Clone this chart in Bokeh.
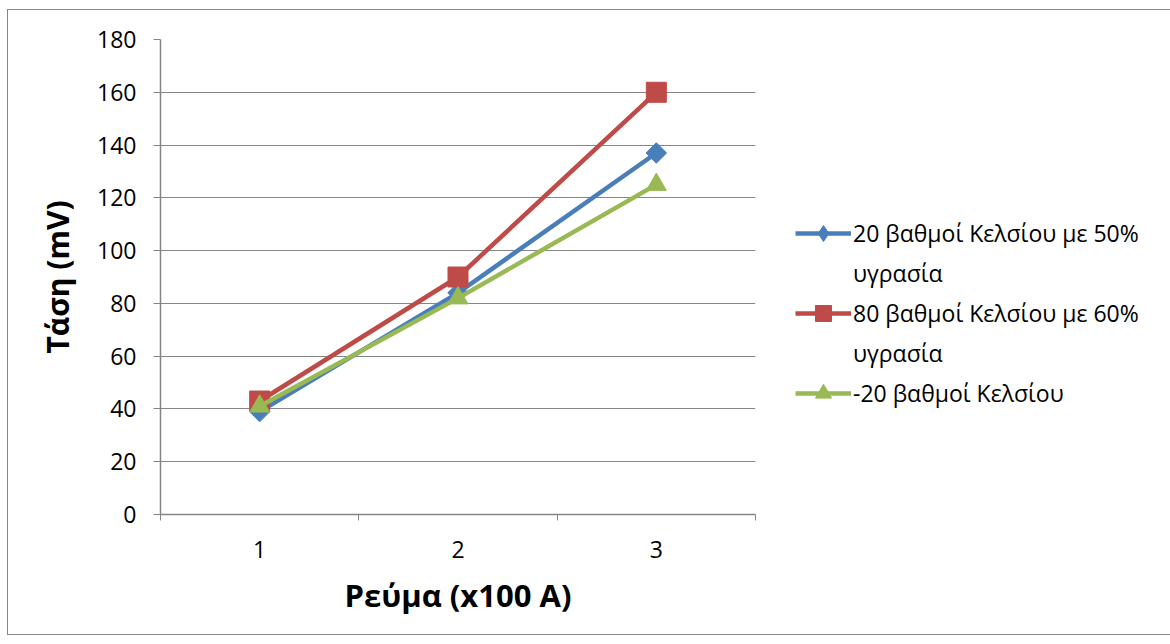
import math

from bokeh.plotting import figure
from bokeh.models import FixedTicker, Legend, LegendItem, Range1d
from bokeh.embed import file_html
from bokeh.resources import INLINE

# Current (x100 A) and measured voltage (mV) for each condition
current = [1, 2, 3]
v_20c_50rh = [39, 84, 137]
v_80c_60rh = [43, 90, 160]
v_minus20c = [41, 82, 125]

# legend labels, wrapped onto two rows where needed
series_labels = [
    ["20 βαθμοί Κελσίου με 50%", "υγρασία"],
    ["80 βαθμοί Κελσίου με 60%", "υγρασία"],
    ["-20 βαθμοί Κελσίου"],
]
y_ticks = [0, 20, 40, 60, 80, 100, 120, 140, 160, 180]
x_label = "Ρεύμα (x100 A)"
y_label = "Τάση (mV)"

FONT = "Open Sans"
GRID = "#868686"
BLUE = "#4A7EBB"
RED = "#BE4B48"
GREEN = "#98B954"

p = figure(
    width=1154, height=624,
    frame_width=595, frame_height=475,
    min_border_left=152, min_border_right=407,
    min_border_top=29, min_border_bottom=120,
    x_range=Range1d(0.5, 3.5), y_range=Range1d(0, 180),
    output_backend="svg", toolbar_location=None,
    margin=(10, 8, 10, 8),
    styles={"outline": "1px solid #868686"},
)
p.outline_line_color = None
p.background_fill_color = "white"
p.border_fill_color = "white"

# axes
p.xgrid.visible = False
p.ygrid.grid_line_color = GRID
p.ygrid.grid_line_width = 1
p.ygrid.ticker = FixedTicker(ticks=y_ticks)

p.xaxis.ticker = FixedTicker(ticks=current, minor_ticks=[0.5, 1.5, 2.5, 3.5])
p.xaxis.major_tick_out = 0
p.xaxis.major_tick_in = 0
p.xaxis.minor_tick_out = 6
p.xaxis.minor_tick_in = 0
p.xaxis.minor_tick_line_color = GRID
p.xaxis.major_label_standoff = 20

p.yaxis.ticker = FixedTicker(ticks=y_ticks)
p.yaxis.major_tick_out = 7
p.yaxis.major_tick_in = 0
p.yaxis.minor_tick_line_color = None
p.yaxis.major_label_standoff = 17

for ax in (p.xaxis[0], p.yaxis[0]):
    ax.axis_line_color = GRID
    ax.axis_line_width = 1.5
    ax.major_tick_line_color = GRID
    ax.major_label_text_font = FONT
    ax.major_label_text_font_size = "23px"
    ax.major_label_text_color = "black"
    ax.axis_label_text_font = FONT
    ax.axis_label_text_font_style = "bold"
    ax.axis_label_text_font_size = "30px"
    ax.axis_label_text_color = "black"

p.xaxis.axis_label_text_font_size = "31px"
p.xaxis.axis_label = x_label
p.yaxis.axis_label = y_label
p.xaxis.axis_label_standoff = 13
p.yaxis.axis_label_standoff = 16

lw = 4.5
r1l = p.line(current, v_20c_50rh, line_color=BLUE, line_width=lw)
# diamonds on the chart: a square turned by 45 degrees
p.scatter(current, v_20c_50rh, marker="square", size=14.5,
          angle=math.pi / 4, fill_color=BLUE, line_color=BLUE)
# legend swatch for the same series (zero size on the chart itself)
r1k = p.scatter(current, v_20c_50rh, marker="diamond", size=0,
                fill_color=BLUE, line_color=BLUE)
r2l = p.line(current, v_80c_60rh, line_color=RED, line_width=lw)
r2m = p.scatter(current, v_80c_60rh, marker="square", size=20,
                fill_color=RED, line_color=RED)
r3l = p.line(current, v_minus20c, line_color=GREEN, line_width=lw)
r3m = p.scatter(current, v_minus20c, marker="triangle", size=20,
                fill_color=GREEN, line_color=GREEN)

# first row of each label carries the glyph, continuation rows carry none
items = []
for rows, rends in zip(series_labels, [[r1l, r1k], [r2l, r2m], [r3l, r3m]]):
    items.append(LegendItem(label=rows[0], renderers=rends))
    for extra in rows[1:]:
        items.append(LegendItem(label=extra, renderers=[]))

legend = Legend(
    items=items,
    location=(40, 101),
    label_text_font=FONT,
    label_text_font_size="23px",
    label_text_color="black",
    glyph_width=56,
    glyph_height=40,
    spacing=0,
    label_standoff=2,
    padding=0,
    margin=0,
    border_line_color=None,
    background_fill_alpha=0,
)
p.add_layout(legend, "right")

open("out.html", "w").write(file_html(p, INLINE))
